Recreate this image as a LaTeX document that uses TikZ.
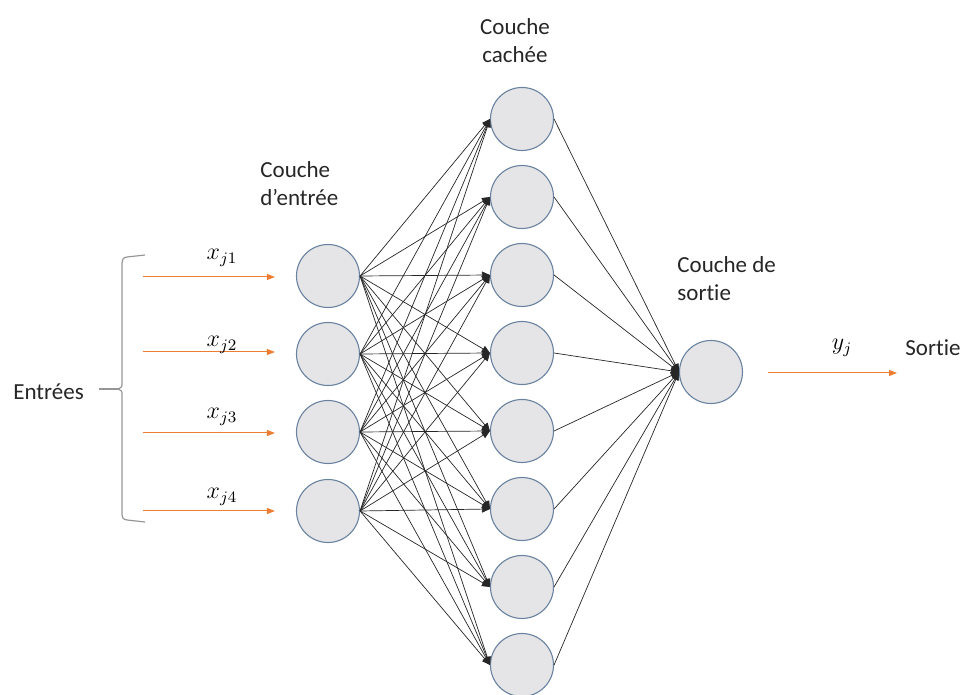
\documentclass[tikz,border=0pt]{standalone}
\usepackage{amsmath}
\usepackage{fontspec}
\setmainfont[Ligatures=NoCommon]{Carlito}
\usepackage{tikz}
\usetikzlibrary{arrows.meta}

\definecolor{nodeblue}{RGB}{105,130,160}
\definecolor{nodegray}{RGB}{229,229,231}
\definecolor{arroworange}{RGB}{237,125,49}
\definecolor{bracegray}{RGB}{150,150,150}

\tikzset{
    neuron/.style={circle, draw=nodeblue, fill=nodegray, line width=0.55pt, minimum size=31.5pt, inner sep=0pt},
    inarrow/.style={arroworange, line width=0.5pt, -{Triangle[length=4pt,width=3pt]}},
    link/.style={black!85, line width=0.35pt, -{Triangle[length=4pt,width=3.5pt]}},
    bracket/.style={bracegray, line width=0.6pt},
    txt/.style={font=\fontsize{11.5}{14}\selectfont, text=black!85, align=left, inner sep=0pt},
    mth/.style={font=\fontsize{12}{14}\selectfont, inner sep=0pt}
}

\begin{document}
\begin{tikzpicture}[x=0.5pt, y=-0.5pt]
    \useasboundingbox (0,0) rectangle (960,695);

    % draw nodes
    \foreach \i/\y in {1/276,2/354,3/432,4/511}
        \node[neuron] (in\i) at (328,\y) {};
    \foreach \j in {1,...,8}
        \node[neuron] (hid\j) at (522,{41+78*\j}) {};
    \node[neuron] (out) at (711,372) {};

    % draw connections
    \foreach \i in {1,...,4}
        \foreach \j in {1,...,8}
            \draw[link] (in\i.east) -- (hid\j.west);
    \foreach \j in {1,...,8}
        \draw[link] (hid\j.east) -- (out.west);

    % draw inputs
    \foreach \i/\y/\ly in {1/277/258,2/352/345,3/433/417,4/511/497}{
        \coordinate (src\i) at (143,\y);
        \draw[inarrow] (src\i) -- ([xshift=-10.5pt]in\i.west |- src\i);
        \node[mth] (xlab\i) at (222,\ly) {$x_{j\i}$};
    }

    % draw output
    \coordinate (res) at (897,373);
    \draw[inarrow] ([xshift=12.5pt]out.east |- res) -- (res);
    \node[mth] (ylab) at (842,348) {$y_j$};
    \node[txt, anchor=west] (sortie) at (905,348) {Sortie};

    % draw brace
    \coordinate (tip) at (118,389);
    \draw[bracket] (145,255) -- (127,257) .. controls (123,258) .. (122,263) -- (122,383)
        .. controls (122,387) .. (tip) .. controls (122,391) .. (122,395) -- (122,515)
        .. controls (123,519) .. (127,520) -- (145,522);
    \node[txt, anchor=west] (entrees) at (13,392) {Entrées};
    \draw[bracket] ([xshift=7.5pt]entrees.east |- tip) -- (tip);

    % draw layer titles
    \node[txt, align=center] (tcach) at (515,41) {Couche\\cachée};
    \node[txt, anchor=west] (tentr) at (260,184) {Couche\\d’entrée};
    \node[txt, anchor=west] (tsort) at (677,279) {Couche de\\sortie};
\end{tikzpicture}
\end{document}
